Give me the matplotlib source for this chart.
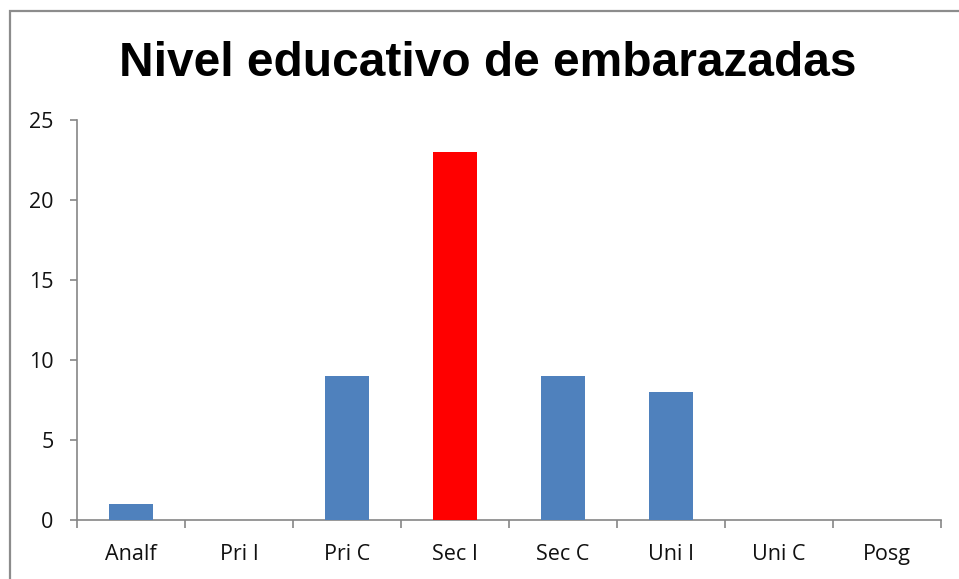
import matplotlib
matplotlib.use("Agg")
import matplotlib.pyplot as plt
from matplotlib.patches import Rectangle

categories = ["Analf", "Pri I", "Pri C", "Sec I", "Sec C", "Uni I", "Uni C", "Posg"]
values = [1, 0, 9, 23, 9, 8, 0, 0]
colors = ["#4F81BD", "#4F81BD", "#4F81BD", "#FF0000", "#4F81BD", "#4F81BD", "#4F81BD", "#4F81BD"]
title = "Nivel educativo de embarazadas"
yticks = [0, 5, 10, 15, 20, 25]

W, H = 959, 579
fig = plt.figure(figsize=(W / 100, H / 100), dpi=100)
fig.patch.set_facecolor("white")

# outer chart border
fig.patches.append(Rectangle((9.5 / W, 0 - 0.01), 1.05, (H - 11) / H + 0.01,
                             transform=fig.transFigure, fill=False,
                             edgecolor="#8C8C8C", linewidth=1.6, clip_on=False))

ax = fig.add_axes([77 / W, 1 - 520 / H, (941 - 77) / W, (520 - 120) / H])
x = list(range(len(categories)))
ax.bar(x, values, width=0.41, color=colors, zorder=3)

ax.set_xlim(-0.5, len(categories) - 0.5)
ax.set_ylim(0, 25)
ax.set_yticks(yticks)
ax.set_yticklabels([str(v) for v in yticks])
ax.set_xticks(x)
ax.set_xticklabels(categories)
ax.set_xticks([i - 0.5 for i in range(len(categories) + 1)], minor=True)

for s in ["top", "right"]:
    ax.spines[s].set_visible(False)
for s in ["left", "bottom"]:
    ax.spines[s].set_color("#868686")
    ax.spines[s].set_linewidth(1.2)

ax.tick_params(axis="y", length=5, color="#868686", width=1.2, labelsize=15.5,
               labelcolor="#111111", pad=12)
ax.tick_params(axis="x", which="major", length=0, labelsize=15.5, pad=17,
               labelcolor="#111111")
ax.tick_params(axis="x", which="minor", length=6, color="#868686", width=1.2)
for lab in ax.get_xticklabels() + ax.get_yticklabels():
    lab.set_fontfamily("Open Sans")

fig.text(488 / W, 1 - 63 / H, title, ha="center", va="center",
         fontsize=34.5, fontweight="bold", family="Liberation Sans")

fig.savefig("out.png", dpi=100)
